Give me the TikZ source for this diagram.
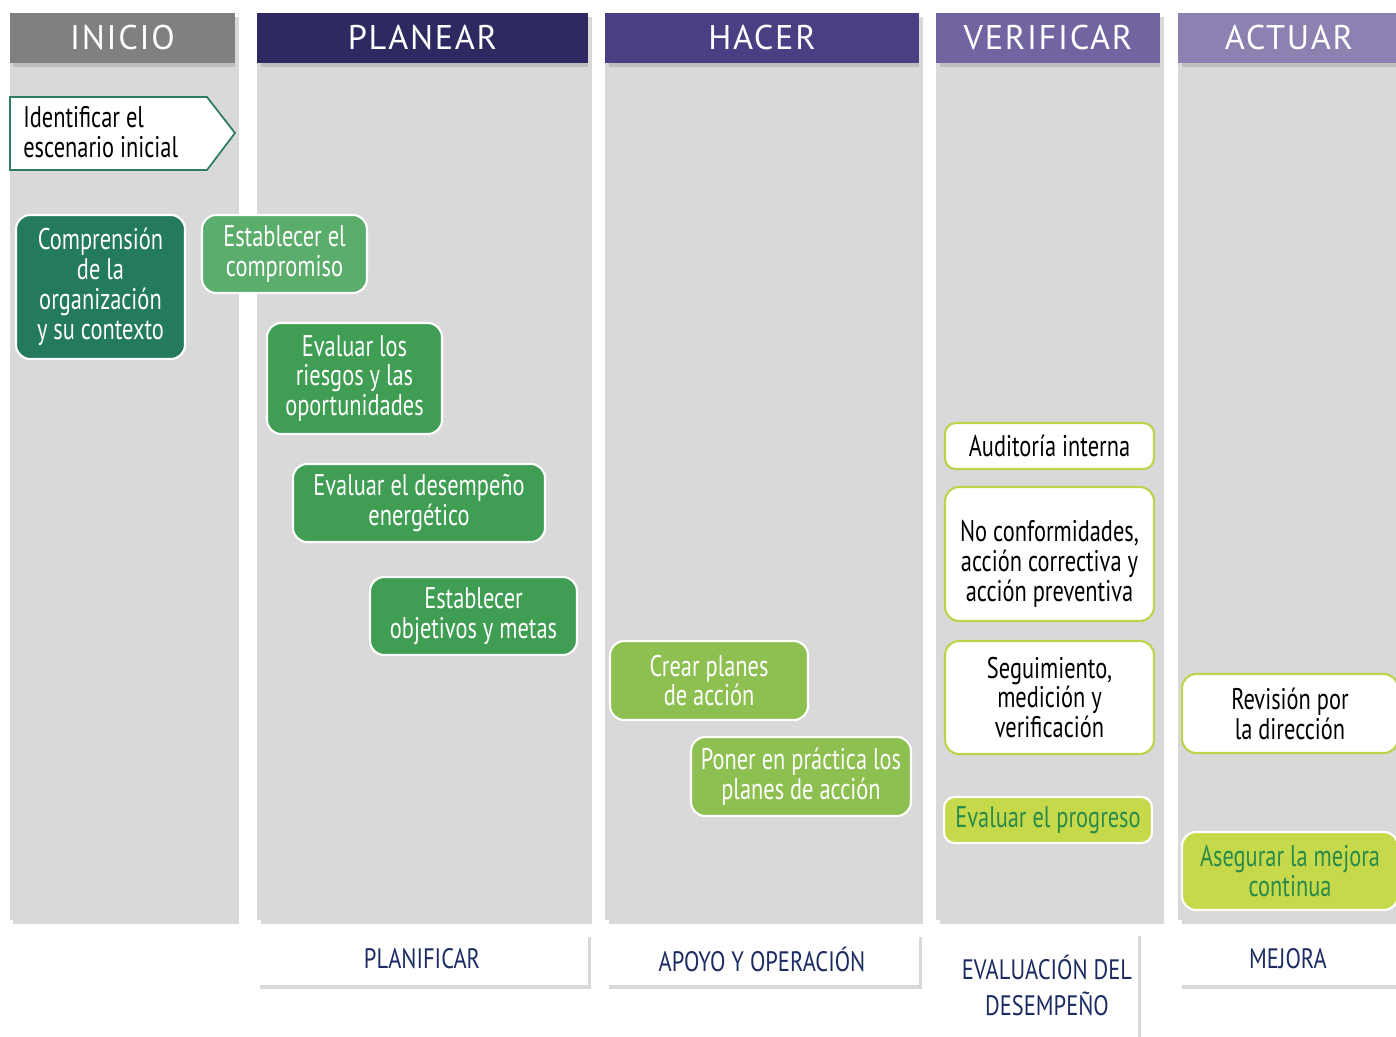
\documentclass[tikz,border=0pt]{standalone}
\usepackage{fontspec}
\setmainfont{PT Sans}
\newfontfamily\narrowfont{PT Sans}[FakeStretch=0.75]
\newfontfamily\footfont{PT Sans}[FakeStretch=0.8]
\newfontfamily\headfont{PT Sans}[LetterSpace=5]
\usetikzlibrary{shadows}

\definecolor{inicioGray}{HTML}{808080}
\definecolor{planearBlue}{HTML}{2E2961}
\definecolor{hacerBlue}{HTML}{4A3F83}
\definecolor{verificarPurple}{HTML}{7164A0}
\definecolor{actuarPurple}{HTML}{8C81B1}
\definecolor{panelGray}{HTML}{D9D9D9}
\definecolor{arrowTeal}{HTML}{2E7D5E}
\definecolor{darkTeal}{HTML}{237A5E}
\definecolor{softGreen}{HTML}{5BAD6B}
\definecolor{midGreen}{HTML}{3F9E53}
\definecolor{leafGreen}{HTML}{8DC050}
\definecolor{limeFill}{HTML}{C5D94B}
\definecolor{limeEdge}{HTML}{BCD34A}
\definecolor{progressGreen}{HTML}{2A8A4A}
\definecolor{footerNavy}{HTML}{1C2B63}

\tikzset{
  panelshadow/.style={drop shadow={opacity=0.3, shadow xshift=0.07cm, shadow yshift=-0.08cm}},
  headtext/.style={text=white, font=\headfont\fontsize{19.5}{21}\selectfont},
  greenbox/.style={draw=white, line width=1.2pt, rounded corners=8pt, text=white,
    align=center, inner sep=2pt, font=\narrowfont\fontsize{17}{17}\selectfont},
  whitebox/.style={greenbox, fill=white, draw=limeEdge, text=black},
  limebox/.style={greenbox, fill=limeFill, text=progressGreen},
  footbox/.style={fill=white, text=footerNavy, align=center, panelshadow,
    font=\footfont\fontsize{16}{20.5}\selectfont}
}

\begin{document}
\begin{tikzpicture}[x=0.02cm, y=-0.02cm]
  \useasboundingbox[fill=white] (0,0) rectangle (1396,1036);

  \foreach \xa/\xb/\col/\name/\lab in {10/235/inicioGray/inicio/INICIO,
      257/588/planearBlue/planear/PLANEAR, 605/919/hacerBlue/hacer/HACER,
      936/1160/verificarPurple/verificar/VERIFICAR, 1178/1400/actuarPurple/actuar/ACTUAR}{
    \path[fill=panelGray, panelshadow] (\xa,63) rectangle (\xb,920);
    \path[fill=\col, panelshadow] (\xa,13) rectangle (\xb,63);
    \node[headtext] (h\name) at ({(\xa+\xb)/2},38) {\lab};
  }

  \draw[fill=white, draw=arrowTeal, line width=1pt]
    (10,97) -- (207,97) -- (235,133) -- (207,170) -- (10,170) -- cycle;
  \node[anchor=west, align=left, inner sep=0pt, font=\narrowfont\fontsize{17}{17}\selectfont]
    (escenario) at (23,132) {Identificar el\\escenario inicial};

  \node[greenbox, fill=darkTeal, minimum width=3.38cm, minimum height=2.88cm]
    (comprension) at (100.5,287) {Comprensión\\de la\\organización\\y su contexto};
  \node[greenbox, fill=softGreen, minimum width=3.3cm, minimum height=1.56cm]
    (compromiso) at (284.5,254) {Establecer el\\compromiso};
  \node[greenbox, fill=midGreen, minimum width=3.5cm, minimum height=2.22cm]
    (riesgos) at (354.5,378.5) {Evaluar los\\riesgos y las\\oportunidades};
  \node[greenbox, fill=midGreen, minimum width=5.04cm, minimum height=1.56cm]
    (desempeno) at (419,503) {Evaluar el desempeño\\energético};
  \node[greenbox, fill=midGreen, minimum width=4.14cm, minimum height=1.56cm]
    (objetivos) at (473.5,616) {Establecer\\objetivos y metas};

  \node[greenbox, fill=leafGreen, minimum width=3.96cm, minimum height=1.58cm]
    (crear) at (709,680.5) {Crear planes\\de acción};
  \node[greenbox, fill=leafGreen, minimum width=4.4cm, minimum height=1.58cm]
    (poner) at (801,776.5) {Poner en práctica los\\planes de acción};

  \node[whitebox, rounded corners=6pt, minimum width=4.18cm, minimum height=0.92cm]
    (auditoria) at (1049.5,446) {Auditoría interna};
  \node[whitebox, minimum width=4.18cm, minimum height=2.68cm]
    (noconf) at (1049.5,554) {\rule{0pt}{23pt}No conformidades,\\acción correctiva y\\acción preventiva};
  \node[whitebox, minimum width=4.18cm, minimum height=2.26cm]
    (seguimiento) at (1049.5,697.5) {Seguimiento,\\medición y\\verificación};
  \node[limebox, rounded corners=6pt, minimum width=4.16cm, minimum height=0.92cm]
    (progreso) at (1048,820) {Evaluar el progreso};

  \node[whitebox, minimum width=4.32cm, minimum height=1.58cm]
    (revision) at (1290,713.5) {Revisión por\\la dirección};
  \node[limebox, minimum width=4.32cm, minimum height=1.56cm]
    (asegurar) at (1290,871) {Asegurar la mejora\\continua};

  \node[footbox, minimum width=6.64cm, minimum height=1.04cm] (planificar) at (422,959) {PLANIFICAR};
  \node[footbox, minimum width=6.28cm, minimum height=1.04cm] (apoyo) at (762,959) {APOYO Y OPERACIÓN};
  \node[footbox, minimum width=3.96cm, minimum height=2.14cm] (evaluacion) at (1034,985)
    {\hspace*{0.52cm}EVALUACIÓN DEL\\\hspace*{0.52cm}DESEMPEÑO};
  \node[footbox, minimum width=4.4cm, minimum height=1.04cm] (mejora) at (1288,959) {MEJORA};
\end{tikzpicture}
\end{document}
